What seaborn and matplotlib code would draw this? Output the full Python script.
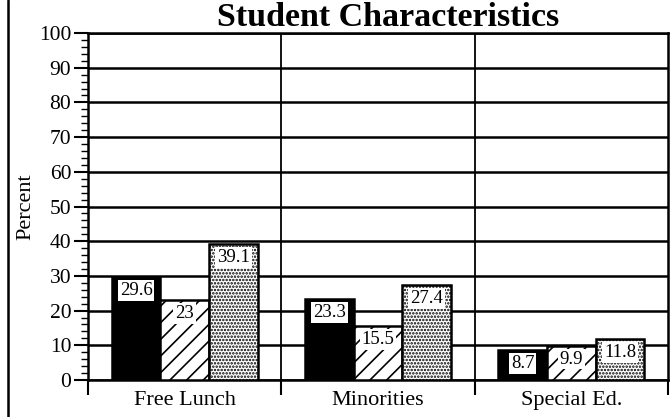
import matplotlib
matplotlib.use("Agg")
import matplotlib.pyplot as plt
from matplotlib.lines import Line2D
from matplotlib.ticker import MultipleLocator
import pandas as pd
import seaborn as sns

# Chart data
categories = ["Free Lunch", "Minorities", "Special Ed."]
series_names = ["School", "District", "State"]
school = [29.6, 23.3, 8.7]
district = [23, 15.5, 9.9]
state = [39.1, 27.4, 11.8]
y_ticks = list(range(0, 101, 10))

sns.set_theme(style="ticks")
plt.rcParams["font.family"] = ["Liberation Serif", "DejaVu Serif"]
plt.rcParams["hatch.linewidth"] = 1.2
plt.rcParams["hatch.color"] = "black"

df = pd.DataFrame({
    "Category": categories * 3,
    "Series": [s for s in series_names for _ in categories],
    "Percent": school + district + state,
})

fig = plt.figure(figsize=(6.72, 4.17), dpi=100)
ax = fig.add_axes([88 / 672, 1 - 380 / 417, 580 / 672, 347 / 417])

sns.barplot(
    data=df, x="Category", y="Percent", hue="Series",
    order=categories, hue_order=series_names,
    palette=["black", "white", "white"], saturation=1,
    width=0.755, edgecolor="black", linewidth=1.8,
    legend=False, errorbar=None, ax=ax, zorder=3,
)

# Fill patterns: solid, diagonal, stipple
hatches = [None, "//", "....."]
for container, hatch in zip(ax.containers, hatches):
    for rect in container:
        if hatch:
            rect.set_hatch(hatch)

# Value labels in white boxes just inside each bar's top
values = [school, district, state]
for container, vals in zip(ax.containers, values):
    for rect, v in zip(container, vals):
        ax.annotate(
            f"{v:g}",
            (rect.get_x() + rect.get_width() / 2, v),
            xytext=(0, -3.5), textcoords="offset points",
            ha="center", va="top", fontsize=13.5, color="black",
            bbox=dict(boxstyle="square,pad=0.1", fc="white", ec="none"),
            zorder=5,
        )

# Axes range and ticks
ax.set_xlim(-0.5, 2.5)
ax.set_ylim(0, 100)
ax.set_yticks(y_ticks)
ax.yaxis.set_minor_locator(MultipleLocator(2))
ax.tick_params(axis="y", which="major", direction="out", length=10, width=1.5,
               labelsize=15.5, pad=2, colors="black", left=True)
ax.tick_params(axis="y", which="minor", direction="out", length=5, width=1,
               colors="black", left=True)

ax.set_xticks([-0.5, 0.5, 1.5, 2.5], labels=[])
ax.set_xticks([0, 1, 2], labels=categories, minor=True)
ax.tick_params(axis="x", which="major", direction="out", length=11, width=1.5,
               colors="black", bottom=True)
ax.tick_params(axis="x", which="minor", length=0, labelsize=16, pad=8,
               labelcolor="black")

# Gridlines
ax.yaxis.grid(True, color="black", linewidth=1.8)
ax.set_axisbelow(True)
for xb in [0.5, 1.5]:
    ax.axvline(xb, color="black", linewidth=1.3, zorder=1)

for spine in ax.spines.values():
    spine.set_visible(True)
    spine.set_color("black")
    spine.set_linewidth(1.8)

ax.set_xlabel("")
ax.set_ylabel("Percent", fontsize=16, color="black")
ax.yaxis.set_label_coords(-0.09, 0.5)

ax.set_title("Student Characteristics", fontsize=24.5, fontweight="bold",
             color="black", pad=1, x=0.517)

# Left frame line of the figure
fig.add_artist(Line2D([8 / 672, 8 / 672], [0, 1], transform=fig.transFigure,
                      color="black", linewidth=1.8))

fig.savefig("out.png", dpi=100, facecolor="white")
